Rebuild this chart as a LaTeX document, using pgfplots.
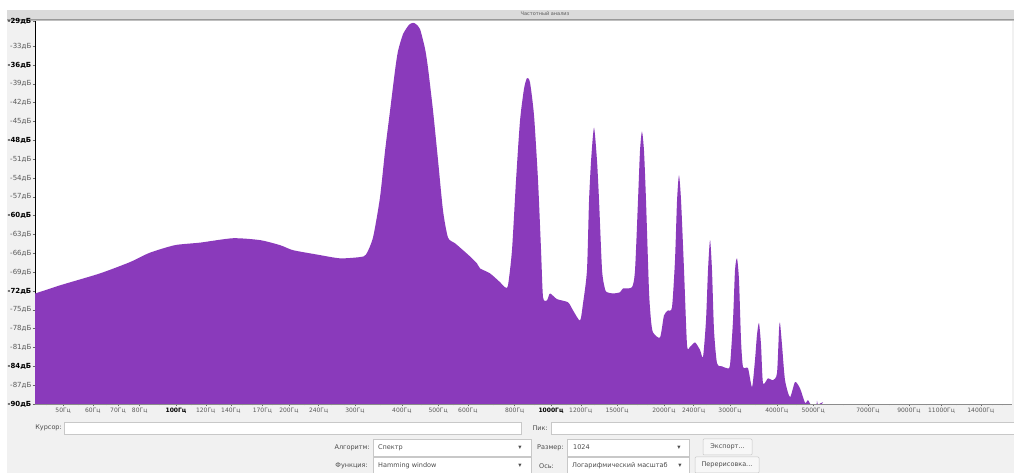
\documentclass[border=0pt]{standalone}
\usepackage{fontspec}
\setmainfont{DejaVu Sans}
\usepackage{pgfplots}
\pgfplotsset{compat=1.18}
\definecolor{spec}{RGB}{138,58,187}
\definecolor{panel}{RGB}{241,241,241}
\definecolor{lbl}{RGB}{90,90,90}
\definecolor{boxline}{RGB}{200,200,200}

\begin{document}
\begin{tikzpicture}[x=1pt,y=1pt]
\useasboundingbox (0,0) rectangle (1014,473);
\fill[white] (0,0) rectangle (1014,473);
\fill[panel] (7,0) rectangle (1014,463);
% title strip
\fill[black!14] (7,454) rectangle (1014,463);
\draw[black!40] (7,453.6) -- (1014,453.6);
\draw[black!25] (7,452.4) -- (1014,452.4);
\node[font=\fontsize{5}{6}\selectfont, text=black!65] at (545,459) {Частотный анализ};

\begin{axis}[
    at={(35pt,69pt)}, anchor=south west,
    scale only axis, width=977pt, height=383pt,
    xmode=log, xmin=42.07, xmax=16957,
    ymin=-90, ymax=-29,
    axis background/.style={fill=white},
    axis x line*=bottom, axis y line*=left,
    x axis line style={-, black!45},
    y axis line style={-, black},
    tick align=outside,
    major tick length=2.5pt, minor tick length=1.5pt,
    tick style={black!60, line width=0.4pt},
    xtick={50,60,70,80,100,120,140,170,200,240,300,400,500,600,800,1000,1200,1500,2000,2400,3000,4000,5000,7000,9000,11000,14000},
    xticklabels={50Гц,60Гц,70Гц,80Гц,\textbf{\textcolor{black}{100Гц}},120Гц,140Гц,170Гц,200Гц,240Гц,300Гц,400Гц,500Гц,600Гц,800Гц,\textbf{\textcolor{black}{1000Гц}},1200Гц,1500Гц,2000Гц,2400Гц,3000Гц,4000Гц,5000Гц,7000Гц,9000Гц,11000Гц,14000Гц},
    minor xtick={45,55,65,75,90,110,130,150,160,180,190,220,260,280,350,450,550,700,900,1100,1300,1400,1700,1800,2200,2600,2800,3500,4500,6000,8000,10000,12000,13000,15000,16000},
    ytick={-29,-33,-36,-39,-42,-45,-48,-51,-54,-57,-60,-63,-66,-69,-72,-75,-78,-81,-84,-87,-90},
    yticklabels={\textbf{\textcolor{black}{-29дБ}},-33дБ,\textbf{\textcolor{black}{-36дБ}},-39дБ,-42дБ,-45дБ,\textbf{\textcolor{black}{-48дБ}},-51дБ,-54дБ,-57дБ,\textbf{\textcolor{black}{-60дБ}},-63дБ,-66дБ,-69дБ,\textbf{\textcolor{black}{-72дБ}},-75дБ,-78дБ,-81дБ,\textbf{\textcolor{black}{-84дБ}},-87дБ,\textbf{\textcolor{black}{-90дБ}}},
    xticklabel style={font=\fontsize{6}{7}\selectfont, text=lbl, inner sep=1.5pt},
    yticklabel style={font=\fontsize{7}{8}\selectfont, text=lbl, inner sep=1pt},
]
\addplot[fill=spec, draw=none, smooth, tension=0.4] coordinates {
(33,-100) (33,-80) (36,-73.6) (42.1,-72.4) (49.06,-71.1) (62.7,-69.2) (75.4,-67.4) (85.2,-65.9)
(99.4,-64.7) (115.9,-64.3) (141.9,-63.6) (167.5,-63.9) (189.4,-64.7) (205.1,-65.5)
(237.7,-66.2) (273.7,-66.8) (309.5,-66.6) (321.1,-66.2) (335.2,-63.5) (349.9,-57.1)
(360.9,-49.7) (372.2,-43.3) (383.7,-36.9) (390.8,-33.8) (403.0,-31.1) (418.2,-29.6)
(428.5,-29.3) (436.5,-29.5) (447.4,-30.3) (461.3,-33.4) (469.9,-36.5) (484.6,-43.3)
(499.7,-51.2) (515.2,-59.2)
(531.3,-63.5) (554.6,-64.4) (582.5,-65.5) (608.1,-66.5) (634.8,-67.6) (646.6,-68.4)
(687.7,-69.2) (731.1,-70.6) (754.0,-71.4) (768.0,-71.1) (787.0,-65.5) (806.6,-54.4)
(826.6,-44.9) (847.2,-39.8) (863.0,-38.1) (879.0,-38.8) (901.0,-44.1) (923.3,-54.4)
(940.5,-65.5) (952.1,-73.0) (975.7,-73.5) (993.8,-72.4) (1037.5,-73.3) (1110,-73.8)
(1145,-75.1) (1195,-76.7) (1217,-74.0) (1247,-68.7) (1263,-57.6) (1279,-51.2)
(1302,-46.0) (1326,-51.2) (1343,-57.6) (1368,-68.7) (1393,-71.7) (1410,-72.2)
(1463,-72.4) (1528,-72.2) (1556,-71.6) (1644,-71.4) (1675,-68.7) (1706,-57.6)
(1727,-49.7) (1748,-46.6) (1770,-49.7) (1792,-57.6) (1825,-71.9) (1848,-76.7)
(1871,-78.6) (1953,-79.4) (2001,-75.9) (2051,-75.1) (2102,-74.6) (2141,-67.1)
(2168,-57.6) (2194,-53.6) (2222,-57.6) (2263,-68.7) (2305,-80.6) (2348,-80.9)
(2421,-80.2) (2497,-81.4) (2543,-82.5) (2590,-76.7) (2622,-68.7) (2655,-63.9)
(2687,-68.7) (2720,-78.2) (2771,-83.5) (2858,-84.0) (2946,-84.3) (3001,-83.8)
(3057,-76.7) (3095,-68.7) (3133,-66.8) (3172,-70.3) (3211,-79.8) (3251,-84.1)
(3352,-84.3) (3436,-87.3) (3499,-83.0) (3542,-79.0) (3586,-77.1) (3631,-80.6)
(3675,-86.7) (3790,-85.9) (3908,-86.2) (4005,-85.1) (4055,-78.2) (4080,-77.1)
(4130,-80.6) (4207,-86.2) (4338,-88.9) (4474,-86.5) (4613,-87.5) (4757,-89.8)
(4845,-89.4) (4935,-90.2) (5089,-91) (5120,-89.5) (5184,-91) (5313,-89.7)
(5379,-91) (16957,-91) (16957,-100)
};
\end{axis}

% controls
\tikzset{lab/.style={font=\fontsize{6.5}{8}\selectfont, text=black!70, inner sep=0pt},
         box/.style={fill=white, draw=boxline, line width=0.5pt},
         btn/.style={fill=panel!60!white, draw=boxline, line width=0.5pt, rounded corners=1pt}}
\node[lab, anchor=east] at (62,45) {Курсор:};
\draw[box] (64,39) rectangle (521,51);
\node[lab, anchor=east] at (548,45) {Пик:};
\draw[box] (551,39) rectangle (1014,51);

\node[lab, anchor=east] at (370,25) {Алгоритм:};
\draw[box] (373,17) rectangle (531,34);
\node[lab, anchor=west] at (378,25.5) {Спектр};
\node[lab] at (520,25.5) {▾};
\node[lab, anchor=east] at (564,25) {Размер:};
\draw[box] (567,17) rectangle (689,34);
\node[lab, anchor=west] at (573,25.5) {1024};
\node[lab] at (679,25.5) {▾};
\draw[btn] (703,18) rectangle (752,34);
\node[lab] at (727.5,26) {Экспорт...};

\node[lab, anchor=east] at (368,7) {Функция:};
\draw[box] (373,0) rectangle (531,16);
\node[lab, anchor=west] at (378,7.5) {Hamming window};
\node[lab] at (520,7.5) {▾};
\node[lab, anchor=west] at (539,7) {Ось:};
\draw[box] (567,0) rectangle (689,16);
\node[lab, anchor=west] at (572,7.5) {Логарифмический масштаб};
\node[lab] at (680,7.5) {▾};
\draw[btn] (695,0) rectangle (759,16);
\node[lab] at (727,8) {Перерисовка...};
\end{tikzpicture}
\end{document}
